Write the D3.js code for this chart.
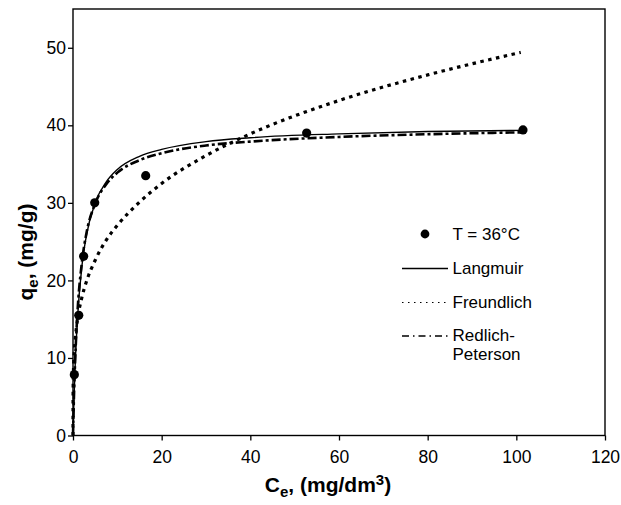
<!DOCTYPE html>
<html>
  <head>
    <meta charset="utf-8">
    <title>Isotherms</title>
    <script src="https://d3js.org/d3.v7.min.js"></script>
    <style>
      body { margin: 0; background: #fff; }
      text { font-family: "Liberation Sans", Arial, sans-serif; fill: #000; }
    </style>
  </head>
  <body>
  </body>
</html>

<script>
  var width = 621
  var height = 505

  // experimental points, T = 36°C
  var ceData = [0.3, 1.3, 2.4, 4.9, 16.4, 52.7, 101.5]
  var qeData = [7.85, 15.5, 23.1, 30.0, 33.5, 39.0, 39.4]

  // fitted curves
  var langC = [0, 0.2, 0.5, 1, 2, 3, 5, 7.5, 10, 15, 20, 30, 40, 60, 80, 101.5]
  var langQ = [0, 4.3, 9.2, 15.0, 21.8, 25.7, 30.0, 32.7, 34.3, 36.0, 36.9, 37.9, 38.4, 38.9, 39.2, 39.35]

  var freuC = [0, 0.02, 0.1, 0.3, 0.5, 1, 2, 3, 5, 7.5, 10, 15, 20, 30, 40, 60, 80, 101]
  var freuQ = [0, 5.4, 8.2, 10.9, 12.4, 14.9, 17.8, 19.8, 22.6, 25.2, 27.1, 30.1, 32.5, 36.1, 38.9, 43.2, 46.5, 49.4]

  var rpC = [0, 0.2, 0.5, 1, 2, 3, 5, 7.5, 10, 15, 20, 30, 40, 60, 80, 101.5]
  var rpQ = [0, 4.7, 9.9, 15.8, 22.3, 26.0, 29.9, 32.4, 33.9, 35.5, 36.4, 37.4, 37.9, 38.5, 38.85, 39.1]

  var xTicks = [0, 20, 40, 60, 80, 100, 120]
  var yTicks = [0, 10, 20, 30, 40, 50]

  var legendNames = ["T = 36°C", "Langmuir", "Freundlich", "Redlich-", "Peterson"]

  var x = d3.scaleLinear()
            .domain([0, 120])
            .range([73, 605])

  var y = d3.scaleLinear()
            .domain([0, 55])
            .range([435.5, 9])

  var svg = d3.select("body")
              .append("svg")
              .attr("width", width)
              .attr("height", height)

  function pairs(cs, qs) {
    return cs.map(function(c, i) { return [c, qs[i]] })
  }

  var line = d3.line()
               .x(function(d) { return x(d[0]) })
               .y(function(d) { return y(d[1]) })
               .curve(d3.curveMonotoneX)

  // axes
  var xAxis = svg.append("g")
                 .attr("transform", "translate(0," + y(0) + ")")
                 .call(d3.axisBottom(x).tickValues(xTicks).tickSize(5).tickPadding(10))
  var yAxis = svg.append("g")
                 .attr("transform", "translate(" + x(0) + ",0)")
                 .call(d3.axisLeft(y).tickValues(yTicks).tickSize(5).tickPadding(2))

  svg.selectAll(".domain").remove()
  svg.selectAll(".tick line").attr("stroke", "#000").attr("stroke-width", 1.3)
  svg.selectAll(".tick text")
     .style("font-family", "'Liberation Sans', Arial, sans-serif")
     .style("font-size", "17.5px")
     .attr("fill", "#000")

  // frame
  svg.append("rect")
     .attr("x", x(0))
     .attr("y", y(55))
     .attr("width", x(120) - x(0))
     .attr("height", y(0) - y(55))
     .attr("fill", "none")
     .attr("stroke", "#000")
     .attr("stroke-width", 1.4)

  // curves
  svg.append("path")
     .attr("d", line(pairs(freuC, freuQ)))
     .attr("fill", "none")
     .attr("stroke", "#000")
     .attr("stroke-width", 3.2)
     .attr("stroke-dasharray", "3.5,4.5")

  svg.append("path")
     .attr("d", line(pairs(rpC, rpQ)))
     .attr("fill", "none")
     .attr("stroke", "#000")
     .attr("stroke-width", 2.6)
     .attr("stroke-dasharray", "9,3,3,3")

  svg.append("path")
     .attr("d", line(pairs(langC, langQ)))
     .attr("fill", "none")
     .attr("stroke", "#000")
     .attr("stroke-width", 1.4)

  svg.selectAll("circle.pt")
     .data(pairs(ceData, qeData))
     .enter()
     .append("circle")
     .attr("class", "pt")
     .attr("cx", function(d) { return x(d[0]) })
     .attr("cy", function(d) { return y(d[1]) })
     .attr("r", 4.6)
     .attr("fill", "#000")

  // axis titles
  var xt = svg.append("text")
              .attr("x", 328)
              .attr("y", 492)
              .attr("text-anchor", "middle")
              .style("font-size", "21px")
              .style("font-weight", "bold")
  xt.append("tspan").text("C")
  xt.append("tspan").attr("dy", 5).style("font-size", "15px").text("e")
  xt.append("tspan").attr("dy", -5).text(", (mg/dm")
  xt.append("tspan").attr("dy", -7).style("font-size", "15px").text("3")
  xt.append("tspan").attr("dy", 7).text(")")

  var yt = svg.append("text")
              .attr("transform", "translate(33,252) rotate(-90)")
              .attr("text-anchor", "middle")
              .style("font-size", "21px")
              .style("font-weight", "bold")
  yt.append("tspan").text("q")
  yt.append("tspan").attr("dy", 5).style("font-size", "15px").text("e")
  yt.append("tspan").attr("dy", -5).text(", (mg/g)")

  // legend
  var lg = svg.append("g")
  lg.append("circle").attr("cx", 425).attr("cy", 234).attr("r", 4.4).attr("fill", "#000")
  lg.append("line").attr("x1", 402).attr("x2", 448).attr("y1", 268.5).attr("y2", 268.5)
    .attr("stroke", "#000").attr("stroke-width", 1.3)
  lg.append("line").attr("x1", 402).attr("x2", 448).attr("y1", 302.5).attr("y2", 302.5)
    .attr("stroke", "#000").attr("stroke-width", 1.2).attr("stroke-dasharray", "1.5,4.5")
  lg.append("line").attr("x1", 402).attr("x2", 448).attr("y1", 336).attr("y2", 336)
    .attr("stroke", "#000").attr("stroke-width", 1.3).attr("stroke-dasharray", "7,4,1.5,4")

  var legendY = [240, 274, 307.5, 341, 360]
  lg.selectAll("text")
    .data(legendNames)
    .enter()
    .append("text")
    .attr("x", 452.5)
    .attr("y", function(d, i) { return legendY[i] })
    .style("font-size", "17px")
    .text(function(d) { return d })
</script>
